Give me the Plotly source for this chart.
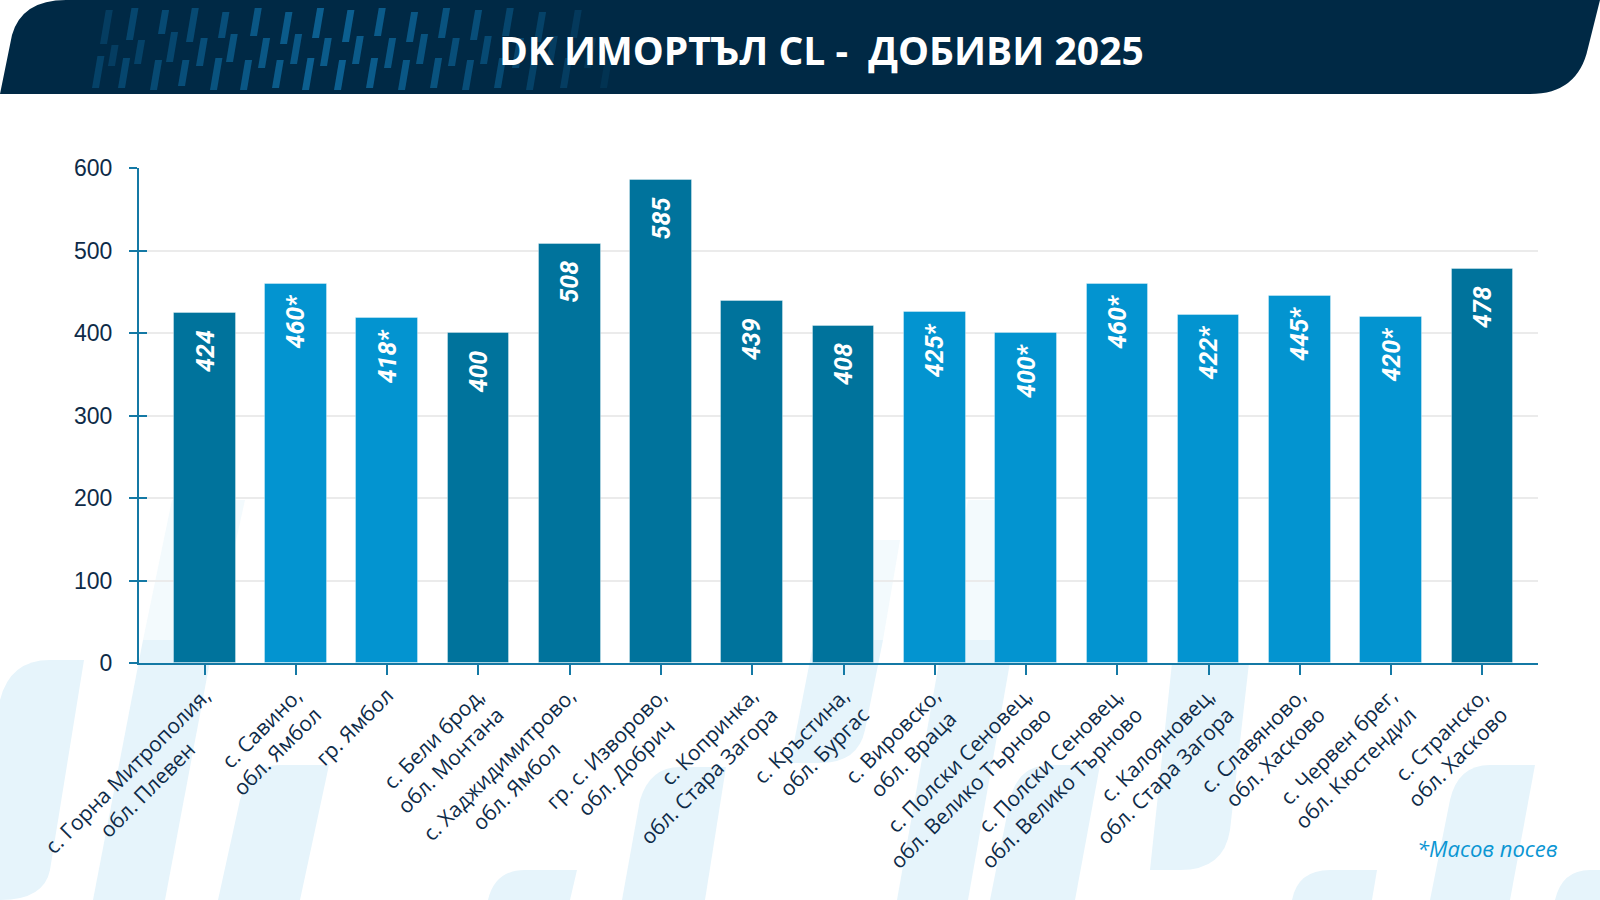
import plotly.graph_objects as go

# ---------------- data ----------------
place_line1 = ["с. Горна Митрополия,", "с. Савино,", "гр. Ямбол", "с. Бели брод,",
               "с. Хаджидимитрово,", "гр. с. Изворово,", "с. Копринка,", "с. Кръстина,",
               "с. Вировско,", "с. Полски Сеновец,", "с. Полски Сеновец,", "с. Калояновец,",
               "с. Славяново,", "с. Червен брег,", "с. Странско,"]
place_line2 = ["обл. Плевен", "обл. Ямбол", "", "обл. Монтана",
               "обл. Ямбол", "обл. Добрич", "обл. Стара Загора", "обл. Бургас",
               "обл. Враца", "обл. Велико Търново", "обл. Велико Търново", "обл. Стара Загора",
               "обл. Хасково", "обл. Кюстендил", "обл. Хасково"]
yields = [424, 460, 418, 400, 508, 585, 439, 408, 425, 400, 460, 422, 445, 420, 478]
mass_sowing = [False, True, True, False, False, False, False, False,
               True, True, True, True, True, True, False]
y_ticks = [0, 100, 200, 300, 400, 500, 600]
title_text = "DK ИМОРТЪЛ CL -  ДОБИВИ 2025"
footnote_text = "*Масов посев"

# ---------------- styles ----------------
W, H = 1600, 900
ML, MR, MT, MB = 139, 62, 168, 237
PW, PH = W - ML - MR, H - MT - MB
DARK = "#00739C"
LIGHT = "#0394D0"
NAVY = "#002945"
AXIS = "#1479A5"
TXT = "#0E2B48"


def px(x):
    return (x - ML) / PW


def py(y):
    return (H - MB - y) / PH


def path(points, close=True):
    s = ""
    for i, p in enumerate(points):
        if p[0] == "Q":
            _, cx, cy, x, y = p
            s += f" Q {px(cx):.5f},{py(cy):.5f} {px(x):.5f},{py(y):.5f}"
        else:
            x, y = p
            s += (" M " if i == 0 else " L ") + f"{px(x):.5f},{py(y):.5f}"
    return s + (" Z" if close else "")


# approximate glyph widths (em) for centring the second label line
def est_w(s):
    w = 0.0
    for ch in s:
        if ch in " .,\u00a0":
            w += 0.26
        elif ch in "мжшщюыМЖШЩЮ":
            w += 0.85
        elif ch in "тгсз":
            w += 0.48
        elif ch.isupper():
            w += 0.68
        else:
            w += 0.59
    return w


ticktext = []
for a, b in zip(place_line1, place_line2):
    if not b:
        ticktext.append(a)
        continue
    w1, w2 = est_w(a), est_w(b)
    if w1 > w2:
        n = int(round((w1 - w2) / 2 / 0.26))
        b = b + "\u00a0" * n
    ticktext.append(a + "<br>" + b)

bar_colors = [LIGHT if m else DARK for m in mass_sowing]
labels = [f"{v}*" if m else f"{v}" for v, m in zip(yields, mass_sowing)]
xs = list(range(len(yields)))

fig = go.Figure()
fig.add_trace(go.Bar(
    x=xs, y=yields, width=0.675,
    marker=dict(color=bar_colors, line=dict(color="rgba(255,255,255,0.35)", width=1)),
    hoverinfo="skip", showlegend=False,
))
fig.add_trace(go.Scatter(x=[None], y=[None], yaxis="y2", showlegend=False, hoverinfo="skip"))

shapes = []
# pale decorative background marks
PALE = "#E6F4FB"
FAINT = "#F3FAFD"
pale_shapes = [
    [(84, 660), (50, 870), ("Q", 44, 900, 0, 900), (0, 700), ("Q", 10, 660, 50, 660)],
    [(214, 640), (165, 900), (93, 900), (143, 640)],
    [(329, 765), (300, 900), (218, 900), (240, 800), ("Q", 250, 765, 280, 765)],
    [(577, 870), (570, 900), (488, 900), ("Q", 495, 870, 525, 870)],
    [(726, 767), (705, 900), (622, 900), (640, 800), ("Q", 650, 767, 680, 767)],
    [(883, 640), (865, 730), ("Q", 858, 763, 820, 763), (790, 763), (814, 640)],
    [(1014, 640), (968, 900), (897, 900), (943, 640)],
    [(1100, 765), (1075, 900), (990, 900), (1010, 800), ("Q", 1018, 765, 1050, 765)],
    [(1249, 663), (1230, 830), ("Q", 1224, 870, 1180, 870), (1150, 870), (1172, 663)],
    [(1377, 870), (1372, 900), (1292, 900), ("Q", 1298, 870, 1330, 870)],
    [(1535, 765), (1510, 900), (1430, 900), (1450, 800), ("Q", 1458, 765, 1490, 765)],
    [(1610, 870), (1610, 900), (1555, 900), ("Q", 1562, 870, 1590, 870)],
]
for pts in pale_shapes:
    shapes.append(dict(type="path", path=path(pts), xref="paper", yref="paper",
                       fillcolor=PALE, line=dict(width=0), layer="below"))
faint_shapes = [
    [(245, 500), (214, 640), (143, 640), (172, 500)],
    [(1040, 500), (1014, 640), (943, 640), (968, 500)],
    [(900, 540), (883, 640), (814, 640), (832, 540)],
]
for pts in faint_shapes:
    shapes.append(dict(type="path", path=path(pts), xref="paper", yref="paper",
                       fillcolor=FAINT, line=dict(width=0), layer="below"))

# header banner
banner = [(0, 94), (12, 35), ("Q", 22, 0, 66, 0), (1600, 0), (1588, 48),
          ("Q", 1578, 94, 1530, 94)]
shapes.append(dict(type="path", path=path(banner), xref="paper", yref="paper",
                   fillcolor=NAVY, line=dict(width=0), layer="below"))
# header dash decoration
dashes = [
    (92, 56, 88, .30), (100, 10, 44, .25), (108, 45, 66, .25),
    (118, 58, 88, .35), (126, 8, 40, .35), (134, 40, 64, .30),
    (150, 60, 90, .40), (158, 10, 34, .40), (166, 32, 62, .35),
    (178, 60, 86, .45), (186, 8, 42, .40), (196, 38, 66, .45),
    (210, 58, 90, .50), (218, 12, 38, .45), (226, 34, 62, .50),
    (240, 60, 90, .55), (250, 8, 36, .55), (258, 38, 68, .55),
    (272, 60, 88, .60), (280, 12, 44, .60), (290, 34, 64, .55),
    (302, 58, 90, .65), (312, 8, 38, .65), (320, 38, 66, .60),
    (334, 60, 90, .65), (342, 10, 42, .65), (352, 36, 64, .60),
    (366, 58, 88, .60), (374, 8, 36, .60), (384, 38, 68, .55),
    (398, 60, 90, .55), (406, 12, 42, .55), (416, 34, 64, .50),
    (430, 58, 88, .50), (438, 8, 38, .50), (448, 38, 66, .45),
    (462, 60, 90, .45), (470, 10, 40, .45), (480, 36, 64, .40),
    (494, 58, 88, .40), (502, 8, 36, .35), (512, 38, 68, .35),
    (526, 60, 90, .30), (534, 12, 42, .30), (546, 36, 64, .25),
    (560, 58, 88, .25), (570, 10, 38, .20), (584, 38, 68, .15), (600, 60, 88, .12),
]
for x0, yt, yb, a in dashes:
    sl = 0.17 * (yb - yt)
    pts = [(x0, yb), (x0 + 7, yb), (x0 + 7 + sl, yt), (x0 + sl, yt)]
    shapes.append(dict(type="path", path=path(pts), xref="paper", yref="paper",
                       fillcolor=f"rgba(18,125,185,{a})", line=dict(width=0), layer="below"))

annotations = []
for x, v, t in zip(xs, yields, labels):
    annotations.append(dict(
        x=x, y=v, xref="x", yref="y", text=t, showarrow=False, textangle=-90,
        xanchor="center", yanchor="middle", yshift=-38,
        font=dict(family="Roboto", size=25, color="white", weight="bold", style="italic"),
    ))
annotations.append(dict(
    x=px(821), y=py(49), xref="paper", yref="paper", text=f"<b>{title_text}</b>",
    showarrow=False, xanchor="center", yanchor="middle",
    font=dict(family="Open Sans", size=39, color="white"),
))
annotations.append(dict(
    x=px(1560), y=py(848), xref="paper", yref="paper", text=f"<i>{footnote_text}</i>",
    showarrow=False, xanchor="right", yanchor="middle",
    font=dict(family="Open Sans", size=22, color="#0B96D3"),
))

fig.update_layout(
    width=W, height=H,
    margin=dict(l=ML, r=MR, t=MT, b=MB, pad=0),
    paper_bgcolor="white", plot_bgcolor="rgba(0,0,0,0)",
    bargap=0,
    shapes=shapes, annotations=annotations,
    xaxis=dict(
        range=[-0.72, 14.61], tickmode="array", tickvals=xs, ticktext=ticktext,
        tickangle=-45, showgrid=False, zeroline=False,
        showline=True, linecolor=AXIS, linewidth=2,
        ticks="outside", ticklen=10, tickwidth=2, tickcolor=AXIS,
        tickfont=dict(family="Open Sans", size=21, color=TXT),
    ),
    yaxis=dict(
        range=[0, 600], tickmode="array", tickvals=y_ticks,
        showgrid=True, gridcolor="#EBEBEB", gridwidth=1.5, zeroline=False,
        showline=True, linecolor=AXIS, linewidth=2,
        ticks="outside", ticklen=8, tickwidth=2, tickcolor=AXIS,
        ticklabelstandoff=12,
        tickfont=dict(family="Liberation Sans", size=23, color=TXT),
    ),
    yaxis2=dict(
        range=[0, 600], tickmode="array", tickvals=y_ticks, overlaying="y", side="left",
        showgrid=False, zeroline=False, showline=False, showticklabels=False,
        ticks="inside", ticklen=8, tickwidth=2, tickcolor=AXIS,
    ),
)

fig.write_html("out.html")
